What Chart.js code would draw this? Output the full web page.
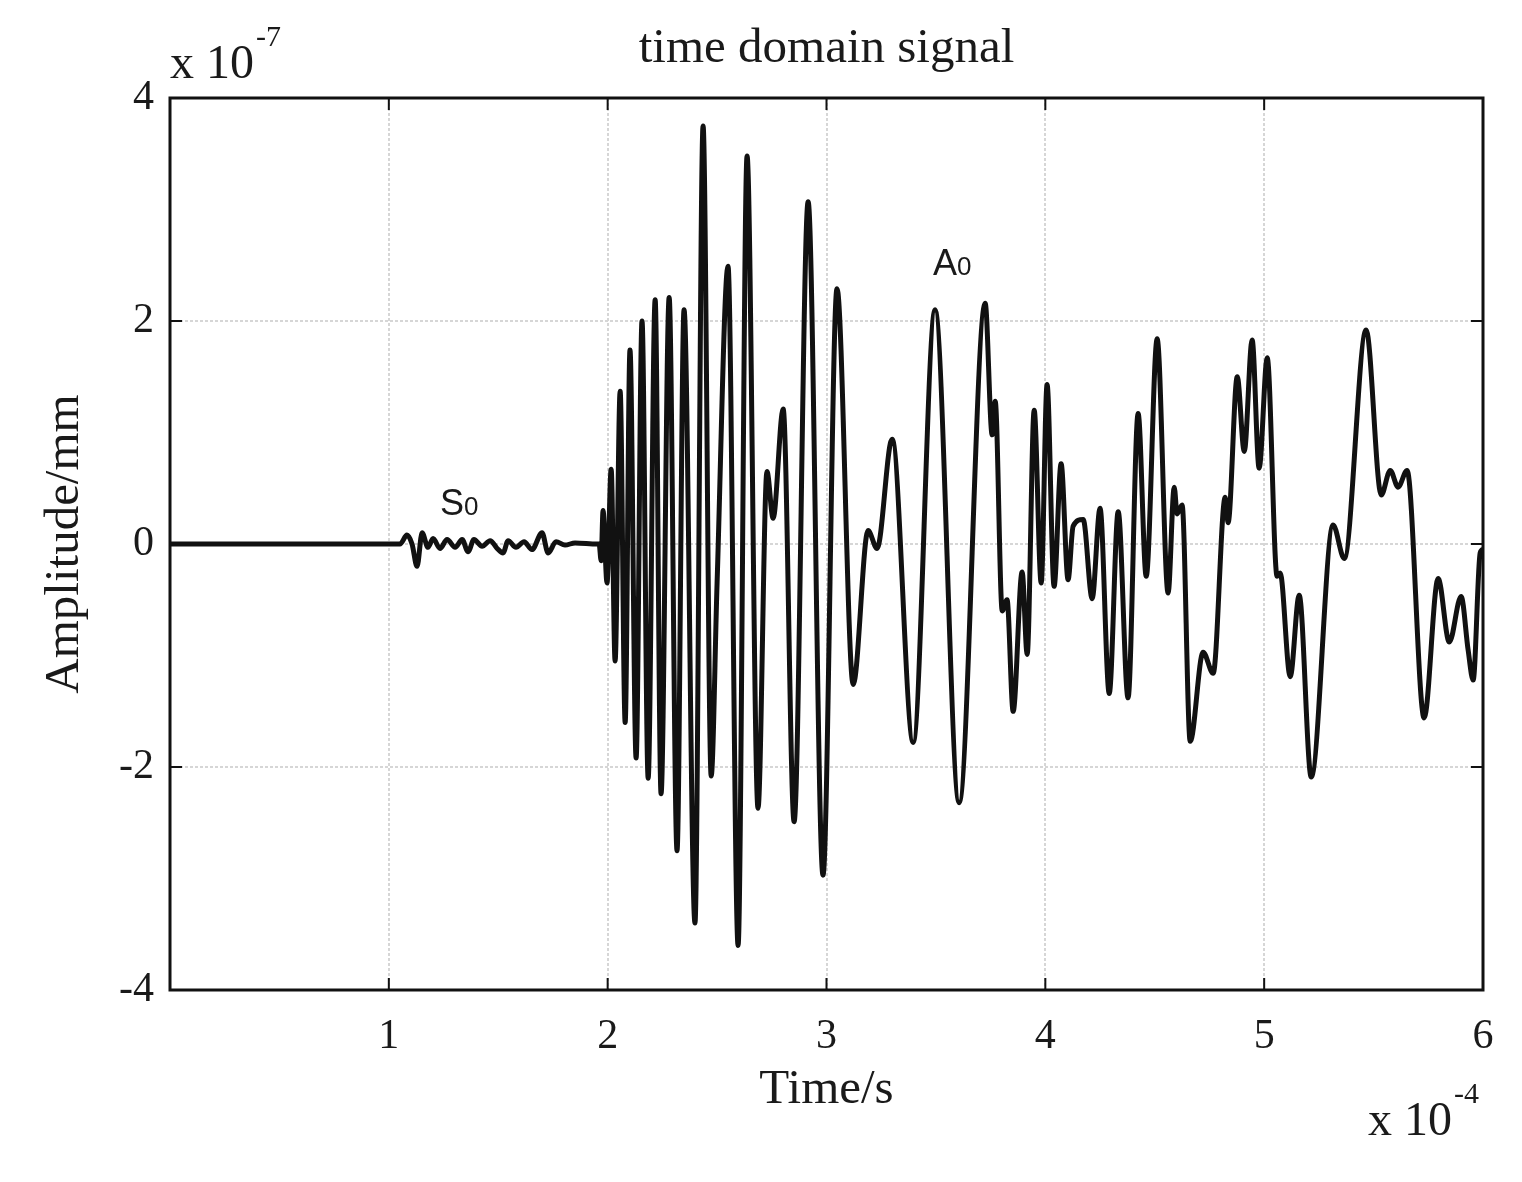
<!DOCTYPE html>
<html>
<head>
<meta charset="utf-8">
<title>time domain signal</title>
<script src="https://cdn.jsdelivr.net/npm/chart.js"></script>
<style>
  html, body { margin: 0; padding: 0; background: #fff; }
  #wrap { width: 1522px; height: 1182px; }
</style>
</head>
<body>
<div id="wrap"><canvas id="sig"></canvas></div>
<script>
// time in units of 1e-4 s, amplitude in units of 1e-7 mm (peaks/valleys)
const times = [
  0, 1.051, 1.083, 1.106, 1.129, 1.152, 1.179, 1.202, 1.234, 1.266,
  1.303, 1.335, 1.362, 1.389, 1.426, 1.463, 1.495, 1.522, 1.545, 1.581,
  1.618, 1.654, 1.700, 1.728, 1.764, 1.805, 1.851, 1.952,
  1.961, 1.970, 1.979, 1.997, 2.016, 2.034, 2.057, 2.080, 2.102, 2.130,
  2.157, 2.185, 2.217, 2.244, 2.281, 2.317, 2.349, 2.399, 2.436, 2.473,
  2.500, 2.550, 2.596, 2.637, 2.687, 2.728, 2.756, 2.802, 2.852, 2.916,
  2.984,
  3.048, 3.122, 3.190, 3.231, 3.300, 3.396, 3.496, 3.606, 3.725, 3.757,
  3.771, 3.803, 3.825, 3.853, 3.894, 3.917, 3.949, 3.981,
  4.008, 4.040, 4.072, 4.104, 4.127, 4.173, 4.214, 4.250, 4.292, 4.333,
  4.378, 4.424, 4.461, 4.511, 4.561, 4.589, 4.602, 4.625, 4.662, 4.721,
  4.767, 4.822, 4.835, 4.877, 4.909, 4.945, 4.977,
  5.014, 5.059, 5.073, 5.119, 5.160, 5.215, 5.315, 5.366, 5.466, 5.535,
  5.576, 5.612, 5.653, 5.731, 5.795, 5.846, 5.900, 5.932, 5.955, 5.987,
  6.0
];
const amps = [
  0, 0, 0.08, 0.0, -0.2, 0.1, -0.03, 0.05, -0.04, 0.04,
  -0.03, 0.04, -0.07, 0.04, -0.02, 0.03, -0.04, -0.08, 0.03, -0.03,
  0.02, -0.05, 0.1, -0.08, 0.02, -0.01, 0.01, 0,
  0, -0.15, 0.3, -0.35, 0.67, -1.05, 1.37, -1.6, 1.74, -1.92,
  2.0, -2.1, 2.19, -2.24, 2.21, -2.75, 2.10, -3.4, 3.75, -2.08,
  -0.35, 2.49, -3.6, 3.48, -2.37, 0.65, 0.23, 1.21, -2.49, 3.07,
  -2.97,
  2.29, -1.26, 0.12, -0.04, 0.94, -1.78, 2.1, -2.32, 2.16, 0.98,
  1.28, -0.6, -0.5, -1.5, -0.25, -0.99, 1.2, -0.35,
  1.43, -0.38, 0.72, -0.32, 0.16, 0.22, -0.49, 0.32, -1.34, 0.29,
  -1.38, 1.17, -0.29, 1.84, -0.44, 0.51, 0.27, 0.35, -1.77, -0.97,
  -1.16, 0.42, 0.19, 1.5, 0.83, 1.83, 0.68,
  1.67, -0.29, -0.26, -1.19, -0.46, -2.09, 0.17, -0.13, 1.92, 0.44,
  0.66, 0.51, 0.66, -1.56, -0.31, -0.88, -0.47, -0.95, -1.22, -0.08,
  -0.05
];

const xRange = [0, 6];
const yRange = [-4, 4];
const chartTitle = 'time domain signal';
const xTitle = 'Time/s';
const yTitle = 'Amplitude/mm';
const xExp = '-4';
const yExp = '-7';

// wave mode labels, placed in data units
const noteMain = ['S', 'A'];
const noteSub = ['0', '0'];
const noteX = [1.234, 3.487];
const noteY = [0.26, 2.41];

const serif = '"Liberation Serif", "Times New Roman", serif';
const sans = '"Liberation Sans", Arial, sans-serif';

const points = times.map((t, i) => ({x: t, y: amps[i]}));

function drawExp(ctx, x, base, exp) {
  ctx.textAlign = 'left';
  ctx.font = '48px ' + serif;
  ctx.fillText('x 10', x, base);
  const w = ctx.measureText('x 10').width;
  ctx.font = '30px ' + serif;
  ctx.fillText(exp, x + w + 2, base - 32);
}

const framePlugin = {
  id: 'frame',
  afterDraw(chart) {
    const {ctx, chartArea: a, scales} = chart;
    const xs = scales.x, ys = scales.y;
    ctx.save();
    ctx.strokeStyle = '#111';
    ctx.lineWidth = 3;
    ctx.strokeRect(a.left, a.top, a.right - a.left, a.bottom - a.top);
    ctx.lineWidth = 2;
    const tl = 12;
    ctx.beginPath();
    xs.ticks.forEach(t => {
      const px = xs.getPixelForValue(t.value);
      ctx.moveTo(px, a.top); ctx.lineTo(px, a.top + tl);
      ctx.moveTo(px, a.bottom); ctx.lineTo(px, a.bottom - tl);
    });
    ys.ticks.forEach(t => {
      const py = ys.getPixelForValue(t.value);
      ctx.moveTo(a.left, py); ctx.lineTo(a.left + tl, py);
      ctx.moveTo(a.right, py); ctx.lineTo(a.right - tl, py);
    });
    ctx.stroke();

    ctx.fillStyle = '#1a1a1a';
    ctx.textBaseline = 'alphabetic';
    ctx.textAlign = 'center';
    ctx.font = '49px ' + serif;
    ctx.fillText(chartTitle, (a.left + a.right) / 2, a.top - 36);

    drawExp(ctx, a.left, a.top - 20, yExp);
    drawExp(ctx, a.right - 115, chart.height - 47, xExp);

    // S0 / A0 labels
    ctx.textAlign = 'left';
    noteMain.forEach((m, i) => {
      const px = xs.getPixelForValue(noteX[i]);
      const py = ys.getPixelForValue(noteY[i]);
      ctx.font = '36px ' + sans;
      ctx.fillText(m, px, py);
      const w = ctx.measureText(m).width;
      ctx.font = '26px ' + sans;
      ctx.fillText(noteSub[i], px + w, py);
    });
    ctx.restore();
  }
};

function gridColor(edges) {
  return c => (c.tick && edges.includes(c.tick.value)) ? 'rgba(0,0,0,0)' : '#d6d6d6';
}

new Chart(document.getElementById('sig'), {
  type: 'line',
  data: {
    datasets: [{
      data: points,
      borderColor: '#111',
      borderWidth: 5,
      pointRadius: 0,
      fill: false,
      cubicInterpolationMode: 'monotone'
    }]
  },
  options: {
    responsive: true,
    maintainAspectRatio: false,
    animation: false,
    layout: {padding: {top: 98, right: 39, bottom: 0, left: 0}},
    plugins: {legend: {display: false}, tooltip: {enabled: false}},
    scales: {
      x: {
        type: 'linear',
        min: xRange[0], max: xRange[1],
        afterFit: s => { s.height = 192; },
        grid: {color: gridColor(xRange), lineWidth: 2, drawTicks: false},
        border: {display: false, dash: [3, 2]},
        ticks: {
          stepSize: 1, autoSkip: false, maxRotation: 0, padding: 22,
          color: '#1a1a1a', font: {family: serif, size: 42},
          callback: v => v === 0 ? '' : String(v)
        },
        title: {display: true, text: xTitle, color: '#1a1a1a',
          font: {family: serif, size: 49}, padding: {top: 0, bottom: 62}}
      },
      y: {
        type: 'linear',
        min: yRange[0], max: yRange[1],
        afterFit: s => { s.width = 170; },
        grid: {color: gridColor(yRange), lineWidth: 2, drawTicks: false},
        border: {display: false, dash: [3, 2]},
        ticks: {
          stepSize: 2, autoSkip: false, padding: 16,
          color: '#1a1a1a', font: {family: serif, size: 42},
          callback: v => String(v)
        },
        title: {display: true, text: yTitle, color: '#1a1a1a',
          font: {family: serif, size: 49}, padding: {top: 36, bottom: 0}}
      }
    }
  },
  plugins: [framePlugin]
});
</script>
</body>
</html>
